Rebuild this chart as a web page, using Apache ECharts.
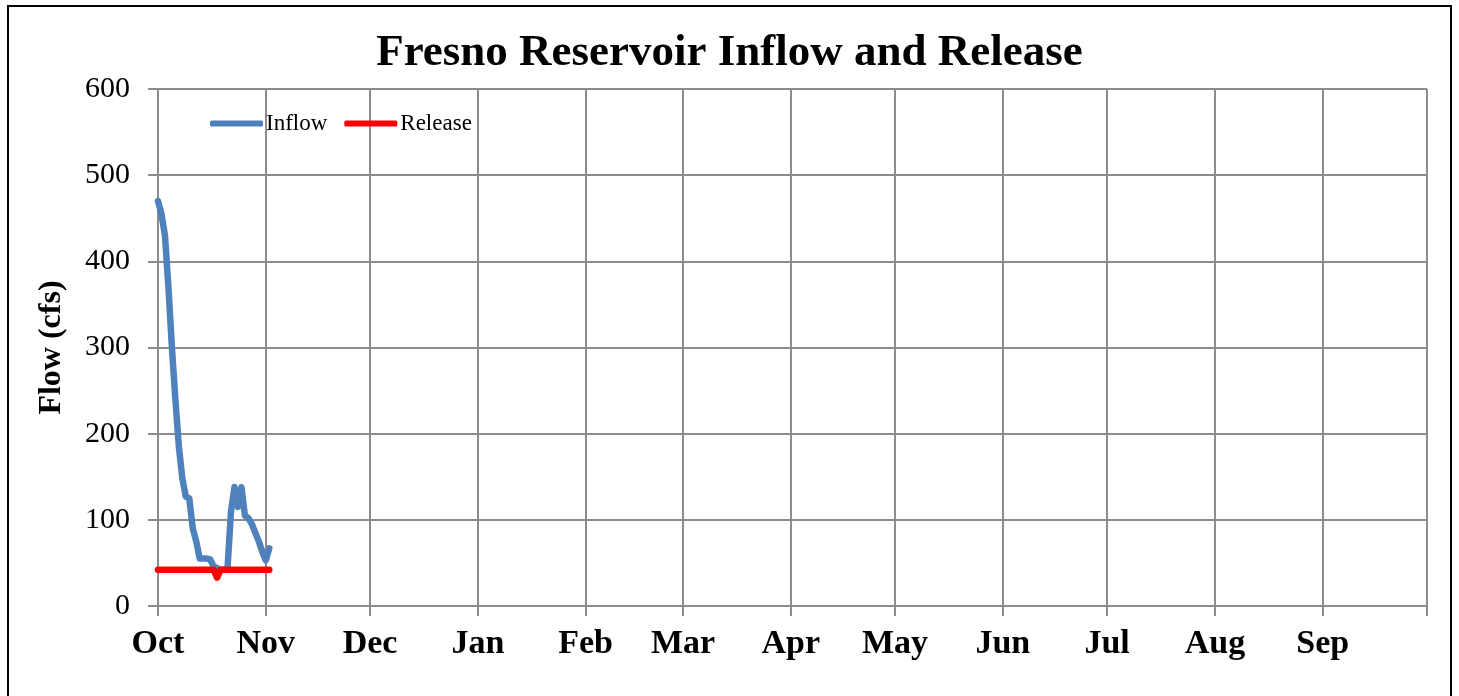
<!DOCTYPE html>
<html>
<head>
<meta charset="utf-8">
<script src="https://cdn.jsdelivr.net/npm/echarts@6/dist/echarts.min.js"></script>
<style>
  html, body { margin: 0; padding: 0; background: #fff; }
  #chart { width: 1459px; height: 696px; }
</style>
</head>
<body>
<div id="chart"></div>
<script>
// month labels and the day index (from Oct 1) where each month starts
const months = ['Oct', 'Nov', 'Dec', 'Jan', 'Feb', 'Mar', 'Apr', 'May', 'Jun', 'Jul', 'Aug', 'Sep'];
const monthStarts = [0, 31, 61, 92, 123, 151, 182, 212, 243, 273, 304, 335, 365];
const yTicks = [0, 100, 200, 300, 400, 500, 600];

// daily flows starting Oct 1 (cfs)
const inflow = [470, 455, 430, 370, 300, 240, 185, 148, 127, 125, 90, 75, 55, 55, 55, 54,
    46, 44, 42, 42, 44, 110, 138, 115, 138, 105, 102, 95, 85, 75, 63, 53, 67];
const release = [42, 42, 42, 42, 42, 42, 42, 42, 42, 42, 42, 42, 42, 42, 42, 42,
    42, 33, 42, 42, 42, 42, 42, 42, 42, 42, 42, 42, 42, 42, 42, 42, 42];

// one category per day of the water year (plus the closing edge)
const days = [];
for (let i = 0; i <= 365; i++) days.push(i);
const isMonthStart = (i) => monthStarts.indexOf(i) >= 0;

const font = '"Liberation Serif", "DejaVu Serif", serif';
const gridColor = '#8c8c8c';

const chart = echarts.init(document.getElementById('chart'));
chart.setOption({
    animation: false,
    textStyle: { fontFamily: font, color: '#000' },
    title: {
        text: 'Fresno Reservoir Inflow and Release',
        left: 'center',
        top: 26,
        textStyle: { fontFamily: font, fontSize: 45, fontWeight: 'bold', color: '#000' }
    },
    legend: {
        left: 205,
        top: 107,
        icon: 'roundRect',
        itemWidth: 53,
        itemHeight: 6,
        itemGap: 17,
        textStyle: { fontFamily: font, fontSize: 23, color: '#000', padding: [0, 0, 0, -2] },
        data: ['Inflow', 'Release']
    },
    graphic: [{
        type: 'rect',
        shape: { x: 8, y: 6, width: 1443, height: 720 },
        style: { fill: 'none', stroke: '#000', lineWidth: 2 },
        z: 100
    }],
    grid: { left: 158, top: 89, right: 32, bottom: 90 },
    xAxis: {
        type: 'category',
        data: days,
        boundaryGap: false,
        axisLine: { lineStyle: { color: gridColor, width: 2 } },
        axisTick: {
            interval: (i) => isMonthStart(i),
            length: 10,
            lineStyle: { color: gridColor, width: 2 }
        },
        axisLabel: {
            interval: (i) => isMonthStart(i) && i < 365,
            formatter: (v) => months[monthStarts.indexOf(Number(v))] || '',
            fontFamily: font,
            fontSize: 34,
            fontWeight: 'bold',
            color: '#000',
            margin: 21
        },
        splitLine: {
            show: true,
            interval: (i) => isMonthStart(i),
            lineStyle: { color: gridColor, width: 2 }
        }
    },
    yAxis: {
        type: 'value',
        min: yTicks[0],
        max: yTicks[yTicks.length - 1],
        interval: 100,
        name: 'Flow (cfs)',
        nameLocation: 'middle',
        nameGap: 90,
        nameTextStyle: { fontFamily: font, fontSize: 32, fontWeight: 'bold', color: '#000' },
        axisLine: { show: true, lineStyle: { color: gridColor, width: 2 } },
        axisTick: { show: true, length: 10, lineStyle: { color: gridColor, width: 2 } },
        axisLabel: { fontFamily: font, fontSize: 30, color: '#000', margin: 28 },
        splitLine: { lineStyle: { color: gridColor, width: 2 } }
    },
    series: [
        {
            name: 'Inflow',
            type: 'line',
            data: inflow,
            showSymbol: false,
            color: '#4f81bd',
            lineStyle: { width: 6.5, color: '#4f81bd', cap: 'round', join: 'round' }
        },
        {
            name: 'Release',
            type: 'line',
            data: release,
            showSymbol: false,
            color: '#ff0000',
            lineStyle: { width: 6.5, color: '#ff0000', cap: 'round', join: 'round' }
        }
    ]
});
</script>
</body>
</html>
